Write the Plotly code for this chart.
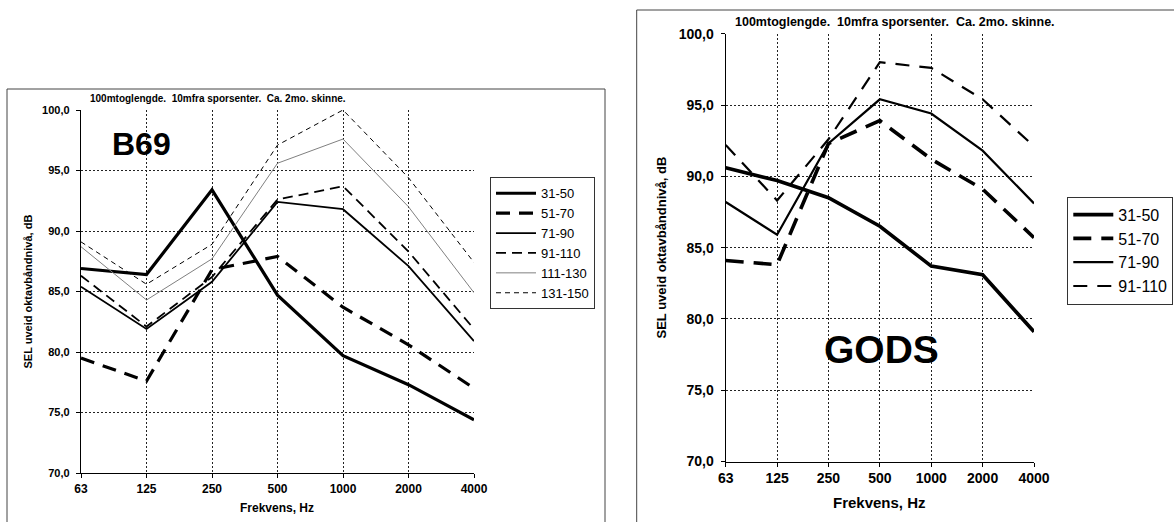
import plotly.graph_objects as go

W, H = 1174, 522

freqs = ["63", "125", "250", "500", "1000", "2000", "4000"]
y_ticks = [70, 75, 80, 85, 90, 95, 100]
y_ticktext = ["70,0", "75,0", "80,0", "85,0", "90,0", "95,0", "100,0"]

# B69 (left chart)
b69_names = ["31-50", "51-70", "71-90", "91-110", "111-130", "131-150"]
b69_31_50 = [86.9, 86.4, 93.4, 84.7, 79.7, 77.3, 74.4]
b69_51_70 = [79.5, 77.6, 86.8, 87.9, 83.7, 80.6, 77.0]
b69_71_90 = [85.4, 81.9, 85.8, 92.4, 91.8, 87.1, 80.9]
b69_91_110 = [86.3, 82.1, 86.2, 92.6, 93.7, 88.3, 81.9]
b69_111_130 = [88.7, 84.3, 87.7, 95.6, 97.6, 92.0, 84.9]
b69_131_150 = [89.1, 85.6, 88.9, 97.1, 100.0, 94.4, 87.4]

# GODS (right chart)
gods_names = ["31-50", "51-70", "71-90", "91-110"]
gods_31_50 = [90.6, 89.7, 88.5, 86.5, 83.7, 83.1, 79.1]
gods_51_70 = [84.1, 83.8, 92.3, 93.9, 91.2, 89.1, 85.7]
gods_71_90 = [88.2, 85.9, 92.3, 95.4, 94.4, 91.8, 88.1]
gods_91_110 = [92.2, 88.3, 92.6, 98.0, 97.6, 95.4, 92.1]

subtitle = "100mtoglengde.  10mfra sporsenter.  Ca. 2mo. skinne."


def fx(px):
    return px / W


def fy(py):
    return 1 - py / H


FONT = "Liberation Sans, Arial, sans-serif"

fig = go.Figure()

left_styles = [
    dict(color="black", width=3.2, dash="solid"),
    dict(color="black", width=3.2, dash="14px,9px"),
    dict(color="black", width=1.8, dash="solid"),
    dict(color="black", width=1.8, dash="10px,6px"),
    dict(color="#808080", width=1.0, dash="solid"),
    dict(color="black", width=1.0, dash="5px,4px"),
]
left_data = [b69_31_50, b69_51_70, b69_71_90, b69_91_110, b69_111_130, b69_131_150]
for name, vals, st in zip(b69_names, left_data, left_styles):
    fig.add_trace(go.Scatter(x=freqs, y=vals, name=name, mode="lines",
                             line=st, xaxis="x", yaxis="y", legend="legend"))

right_styles = [
    dict(color="black", width=3.6, dash="solid"),
    dict(color="black", width=3.6, dash="18px,10px"),
    dict(color="black", width=2.2, dash="solid"),
    dict(color="black", width=2.2, dash="14px,10px"),
]
right_data = [gods_31_50, gods_51_70, gods_71_90, gods_91_110]
for name, vals, st in zip(gods_names, right_data, right_styles):
    fig.add_trace(go.Scatter(x=freqs, y=vals, name=name, mode="lines",
                             line=st, xaxis="x2", yaxis="y2", legend="legend2"))


def xaxis(domain, anchor, size):
    return dict(domain=domain, anchor=anchor, type="category", range=[0, 6],
                showgrid=True, gridcolor="#222", griddash="2px,2px", gridwidth=1,
                showline=True, linecolor="black", linewidth=1.3,
                ticks="outside", ticklen=4, tickcolor="black",
                tickfont=dict(family=FONT, size=size, color="black", weight="bold"),
                zeroline=False, fixedrange=True)


def yaxis(domain, anchor, size):
    return dict(domain=domain, anchor=anchor, range=[70, 100],
                tickvals=y_ticks, ticktext=y_ticktext,
                showgrid=True, gridcolor="#222", griddash="2px,2px", gridwidth=1,
                showline=True, linecolor="black", linewidth=1.3,
                ticks="outside", ticklen=4, tickcolor="black",
                ticklabelstandoff=4,
                tickfont=dict(family=FONT, size=size, color="black", weight="bold"),
                zeroline=False, fixedrange=True)


fig.update_layout(
    width=W, height=H,
    margin=dict(l=0, r=0, t=0, b=0, autoexpand=False),
    paper_bgcolor="white", plot_bgcolor="white",
    xaxis=xaxis([fx(81), fx(474)], "y", 12),
    yaxis=yaxis([fy(473), fy(110)], "x", 11),
    xaxis2=xaxis([fx(725.7), fx(1034)], "y2", 14),
    yaxis2=yaxis([fy(461.5), fy(33.7)], "x2", 14),
    legend=dict(x=fx(490), y=fy(177.3), xanchor="left", yanchor="top",
                bordercolor="#333", borderwidth=1, bgcolor="white",
                font=dict(family=FONT, size=13, color="black"),
                itemwidth=40, tracegroupgap=0),
    legend2=dict(x=fx(1067.3), y=fy(196.7), xanchor="left", yanchor="top",
                 bordercolor="#333", borderwidth=1, bgcolor="white",
                 font=dict(family=FONT, size=16, color="black"),
                 itemwidth=40, tracegroupgap=0),
    showlegend=True,
)

# chart frames
fig.add_shape(type="rect", xref="paper", yref="paper",
              x0=fx(7), x1=fx(605), y0=fy(540), y1=fy(89),
              line=dict(color="#444", width=1), layer="below")
fig.add_shape(type="rect", xref="paper", yref="paper",
              x0=fx(636.7), x1=fx(1190), y0=fy(540), y1=fy(10),
              line=dict(color="#444", width=1), layer="below")

ann = []
# subtitles
ann.append(dict(text=subtitle, x=fx(87.7), y=fy(98.5), xanchor="left", yanchor="middle",
                font=dict(family=FONT, size=10, color="black", weight="bold")))
ann.append(dict(text=subtitle, x=fx(733.3), y=fy(22), xanchor="left", yanchor="middle",
                font=dict(family=FONT, size=12.5, color="black", weight="bold")))
# big labels
ann.append(dict(text="B69", x=fx(141), y=fy(143.5), xanchor="center", yanchor="middle",
                font=dict(family=FONT, size=32, color="black", weight="bold")))
ann.append(dict(text="GODS", x=fx(881.6), y=fy(349), xanchor="center", yanchor="middle",
                font=dict(family=FONT, size=39, color="black", weight="bold")))
# axis titles
ann.append(dict(text="SEL uveid oktavbåndnivå, dB", x=fx(27), y=fy(291.5), textangle=-90,
                xanchor="center", yanchor="middle",
                font=dict(family=FONT, size=11, color="black", weight="bold")))
ann.append(dict(text="SEL uveid oktavbåndnivå, dB", x=fx(661), y=fy(247.5), textangle=-90,
                xanchor="center", yanchor="middle",
                font=dict(family=FONT, size=13, color="black", weight="bold")))
ann.append(dict(text="Frekvens, Hz", x=fx(277), y=fy(508), xanchor="center", yanchor="middle",
                font=dict(family=FONT, size=12, color="black", weight="bold")))
ann.append(dict(text="Frekvens, Hz", x=fx(879), y=fy(502), xanchor="center", yanchor="middle",
                font=dict(family=FONT, size=15, color="black", weight="bold")))
for a in ann:
    a.update(xref="paper", yref="paper", showarrow=False)
fig.update_layout(annotations=ann)

fig.write_html("out.html", config={"displayModeBar": False},
               post_script="document.body.style.margin='0';document.body.style.padding='0';")
